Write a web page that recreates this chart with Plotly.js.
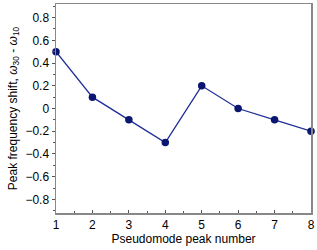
<!DOCTYPE html>
<html>
<head>
<script src="https://cdn.plot.ly/plotly-3.0.1.min.js"></script>
<style>html,body{margin:0;padding:0;background:#fff;}#chart{width:317px;height:250px;}</style>
</head>
<body>
<div id="chart"></div>
<script>
const peakNumbers = [1, 2, 3, 4, 5, 6, 7, 8];
const shiftValues = [0.5, 0.1, -0.1, -0.3, 0.2, 0.0, -0.1, -0.2];
const yTickVals = [-0.8, -0.6, -0.4, -0.2, 0, 0.2, 0.4, 0.6, 0.8];
const yTickText = ["\u22120.8", "\u22120.6", "\u22120.4", "\u22120.2", "0", "0.2", "0.4", "0.6", "0.8"];

const trace = {
  x: peakNumbers,
  y: shiftValues,
  mode: 'lines+markers',
  line: {color: '#1f2f96', width: 1.3},
  marker: {color: '#0b1670', size: 7.5},
  cliponaxis: false,
  showlegend: false
};

const layout = {
  width: 317, height: 250,
  margin: {l: 56, r: 6, t: 4, b: 37},
  paper_bgcolor: '#fff', plot_bgcolor: '#fff',
  font: {family: 'Liberation Sans, Arial, sans-serif', size: 12, color: '#000'},
  xaxis: {
    range: [1, 8], tickvals: peakNumbers, showgrid: false, zeroline: false,
    showline: true, linecolor: '#888', linewidth: 1.5, mirror: true,
    ticks: 'inside', ticklen: 3, tickcolor: '#555', tickwidth: 1,
    minor: {dtick: 0.5, ticks: 'inside', ticklen: 2, tickcolor: '#555'},
    tickfont: {size: 12},
    title: {text: 'Pseudomode peak number', font: {size: 12}, standoff: 1}
  },
  yaxis: {
    range: [-0.92, 0.92], tickvals: yTickVals, ticktext: yTickText,
    showgrid: false, zeroline: false,
    showline: true, linecolor: '#888', linewidth: 1.5, mirror: true,
    ticks: 'outside', ticklen: 3, tickcolor: '#555', tickwidth: 1,
    minor: {dtick: 0.1, ticks: 'outside', ticklen: 2, tickcolor: '#555'},
    tickfont: {size: 12},
    title: {text: 'Peak frequency shift, <i>\u03c9</i><sub>30</sub> - <i>\u03c9</i><sub>10</sub>', font: {size: 12}, standoff: 5}
  }
};

Plotly.newPlot('chart', [trace], layout, {displayModeBar: false, staticPlot: true});
</script>
</body>
</html>
